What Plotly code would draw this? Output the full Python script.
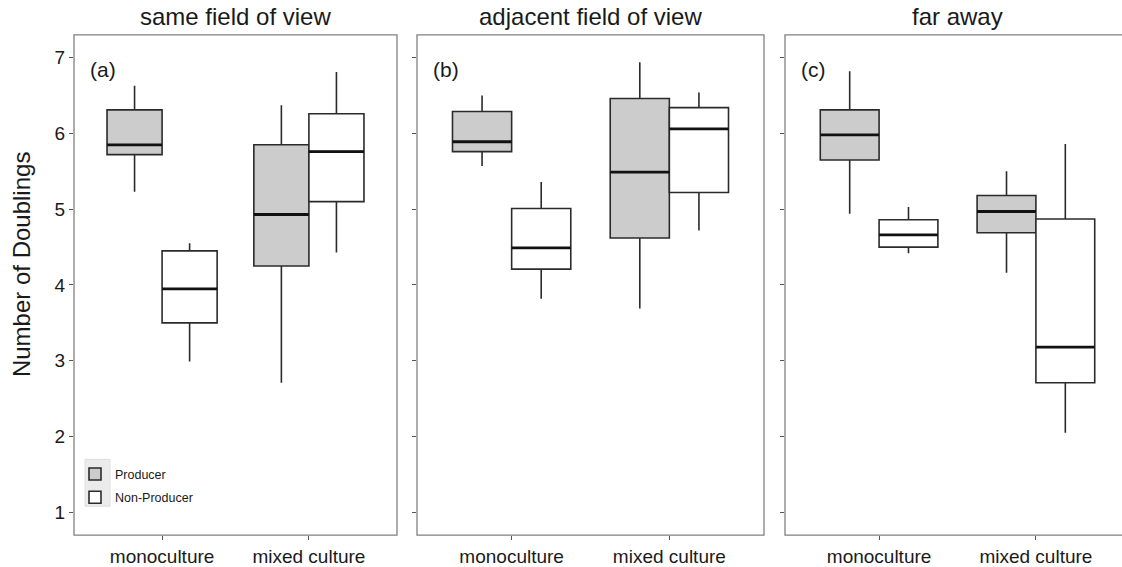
import plotly.graph_objects as go

# Group labels on the x axis and the three distance panels
categories = ["monoculture", "mixed culture"]
panel_titles = ["same field of view", "adjacent field of view", "far away"]
panel_tags = ["(a)", "(b)", "(c)"]
y_ticks = [1, 2, 3, 4, 5, 6, 7]

# Box statistics per panel, each as [monoculture, mixed culture]
prod_upper = [[6.63, 6.37], [6.50, 6.94], [6.82, 5.50]]
prod_q3 = [[6.31, 5.85], [6.29, 6.46], [6.31, 5.18]]
prod_median = [[5.85, 4.93], [5.89, 5.49], [5.98, 4.97]]
prod_q1 = [[5.72, 4.25], [5.76, 4.62], [5.65, 4.69]]
prod_lower = [[5.23, 2.71], [5.57, 3.69], [4.94, 4.16]]

non_upper = [[4.55, 6.81], [5.36, 6.54], [5.03, 5.86]]
non_q3 = [[4.45, 6.26], [5.01, 6.34], [4.86, 4.87]]
non_median = [[3.95, 5.76], [4.49, 6.06], [4.66, 3.18]]
non_q1 = [[3.50, 5.10], [4.21, 5.22], [4.50, 2.71]]
non_lower = [[2.99, 4.43], [3.82, 4.72], [4.42, 2.05]]

W, H = 1122, 567
# panel extents in pixels (left, right); the last panel runs past the page edge
panel_px = [(74, 397), (417, 764), (785, 1130)]
top_px, bottom_px = 35, 537
box_w = 0.375
dodge = box_w / 2

groups = [
    dict(name="Producer", fill="#cccccc", upper=prod_upper, q3=prod_q3,
         med=prod_median, q1=prod_q1, lower=prod_lower, shift=-dodge),
    dict(name="Non-Producer", fill="#ffffff", upper=non_upper, q3=non_q3,
         med=non_median, q1=non_q1, lower=non_lower, shift=dodge),
]

fig = go.Figure()
positions = [1, 2]
shapes = []
annotations = []

for p in range(3):
    ax = "" if p == 0 else str(p + 1)
    xref, yref = "x" + ax, "y" + ax
    for g in groups:
        xs = [c + g["shift"] for c in positions]
        fig.add_trace(go.Box(
            x=xs, q1=g["q1"][p], median=g["med"][p], q3=g["q3"][p],
            lowerfence=g["lower"][p], upperfence=g["upper"][p],
            width=box_w, whiskerwidth=0, fillcolor=g["fill"],
            line=dict(color="#2b2b2b", width=1.6),
            name=g["name"], legendgroup=g["name"],
            showlegend=(p == 0), boxpoints=False, hoverinfo="skip",
            xaxis=xref, yaxis=yref,
        ))
        # thicker median bar
        mx, my = [], []
        for x, m in zip(xs, g["med"][p]):
            mx += [x - dodge, x + dodge, None]
            my += [m, m, None]
        fig.add_trace(go.Scatter(
            x=mx, y=my, mode="lines", line=dict(color="#111111", width=2.8),
            showlegend=False, hoverinfo="skip", xaxis=xref, yaxis=yref,
        ))

    left, right = panel_px[p]
    px_per_unit = (right - left) / 2.2
    dom_right = min(right, W)
    x_hi = 0.4 + (dom_right - left) / px_per_unit
    fig.layout["xaxis" + ax] = dict(
        domain=[left / W, dom_right / W], range=[0.4, x_hi],
        tickvals=positions, ticktext=categories, ticks="outside",
        ticklen=4, tickcolor="#555555", showgrid=False, zeroline=False,
        showline=False, tickfont=dict(size=19, color="#1a1a1a"),
        anchor=yref,
    )
    fig.layout["yaxis" + ax] = dict(
        domain=[1 - bottom_px / H, 1 - top_px / H], range=[0.7, 7.3],
        tickvals=y_ticks, ticks="outside", ticklen=4, tickcolor="#555555",
        showgrid=False, zeroline=False, showline=False,
        showticklabels=(p == 0), tickfont=dict(size=19, color="#1a1a1a"),
        anchor=xref,
    )

    # panel frame
    shapes.append(dict(
        type="rect", xref="paper", yref="paper",
        x0=left / W, x1=right / W, y0=1 - bottom_px / H, y1=1 - top_px / H,
        line=dict(color="#808080", width=1.3), fillcolor="rgba(0,0,0,0)",
        layer="above",
    ))
    # strip title above the panel
    annotations.append(dict(
        text=panel_titles[p], xref="paper", yref="paper",
        x=(left + right) / 2 / W, y=1 - 17 / H, xanchor="center",
        yanchor="middle", showarrow=False,
        font=dict(size=24, color="#1a1a1a"),
    ))
    # panel tag in the upper-left corner
    annotations.append(dict(
        text=panel_tags[p], xref="paper", yref="paper",
        x=(left + 14) / W, y=1 - 70 / H,
        xanchor="left", yanchor="middle", showarrow=False,
        font=dict(size=21, color="#1a1a1a"),
    ))

# y axis title
annotations.append(dict(
    text="Number of Doublings", xref="paper", yref="paper",
    x=21 / W, y=1 - 266 / H, textangle=-90, xanchor="center",
    yanchor="middle", showarrow=False,
    font=dict(size=24, color="#1a1a1a"),
))

# light background behind the legend keys
shapes.append(dict(
    type="rect", xref="paper", yref="paper",
    x0=85 / W, x1=110 / W, y0=1 - 508 / H, y1=1 - 461 / H,
    line=dict(color="#dedede", width=1), fillcolor="#ebebeb", layer="above",
))

fig.update_layout(
    width=W, height=H, margin=dict(l=0, r=0, t=0, b=0),
    paper_bgcolor="white", plot_bgcolor="white",
    font=dict(family="Arial, Liberation Sans, sans-serif", color="#1a1a1a"),
    boxmode="overlay", shapes=shapes, annotations=annotations,
    legend=dict(
        x=75 / W, y=1 - 461 / H, xanchor="left", yanchor="top",
        bgcolor="rgba(0,0,0,0)", font=dict(size=12.5, color="#1a1a1a"),
        traceorder="grouped", tracegroupgap=4, itemwidth=30,
    ),
)

fig.write_html("out.html")
